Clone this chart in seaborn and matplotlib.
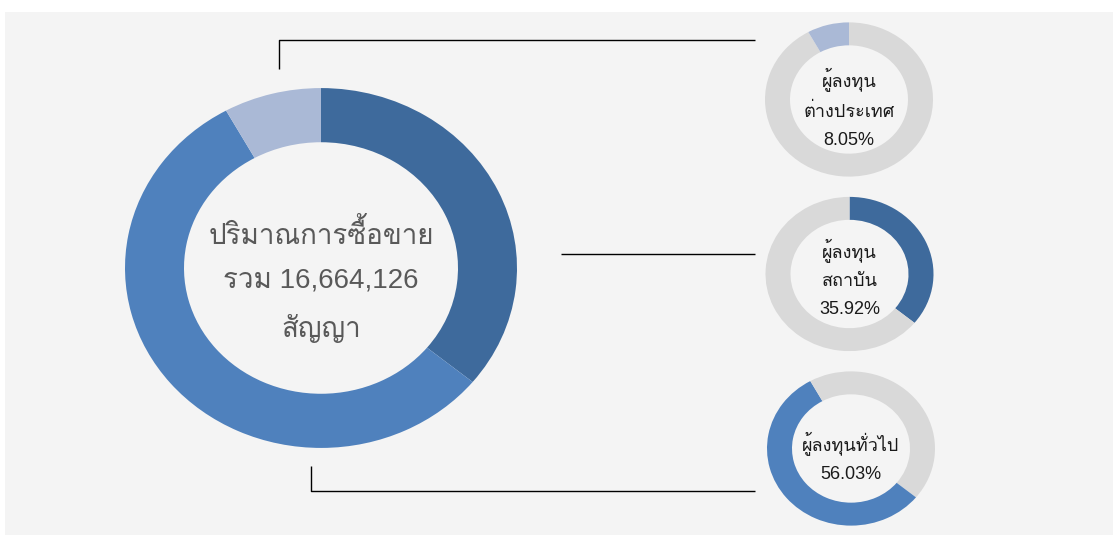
import matplotlib
matplotlib.use("Agg")
import matplotlib.pyplot as plt
import seaborn as sns

# ---- data ----
categories = ["ผู้ลงทุนสถาบัน", "ผู้ลงทุนทั่วไป", "ผู้ลงทุนต่างประเทศ"]
shares = [35.92, 56.03, 8.05]
small_labels = ["ผู้ลงทุน\nสถาบัน\n35.92%", "ผู้ลงทุนทั่วไป\n56.03%", "ผู้ลงทุน\nต่างประเทศ\n8.05%"]
center_label = "ปริมาณการซื้อขาย\nรวม 16,664,126\nสัญญา"

colors = ["#3E6A9C", "#4F81BD", "#AAB9D6"]
grey = "#D9D9D9"
panel = "#F4F4F4"

sns.set_theme(style="white")
plt.rcParams["font.family"] = ["Liberation Sans", "Loma", "Noto Sans Thai Looped", "DejaVu Sans"]

W, H = 1118, 539
S = 0.918  # vertical squash of the rings (they are drawn slightly wider than tall)
fig = plt.figure(figsize=(W / 100, H / 100), dpi=100)
fig.patch.set_facecolor("white")
ax = fig.add_axes([0, 0, 1, 1])


def Y(y):
    return (H - y) / S


# panel background
ax.add_patch(plt.Rectangle((5, Y(535)), 1108, (535 - 12) / S, facecolor=panel,
                           edgecolor="none", zorder=0))

# big donut
big_c = (321, Y(268))
big_r = 196
ax.pie(shares, colors=colors, startangle=90, counterclock=False, center=big_c, radius=big_r,
       wedgeprops=dict(width=59, edgecolor="none"), frame=True)
ax.text(321, Y(281), center_label, ha="center", va="center", fontsize=20,
        color="#595959", linespacing=1.9)

# small donuts: each shows its own segment at its position in the big donut
small_centers = [(849.5, 274), (851, 448.5), (849, 99.5)]
text_y = [278, 457, 108]
small_r = 84
total = sum(shares)
cum = 0.0
for val, col, lab, (cx, cy), ty in zip(shares, colors, small_labels, small_centers, text_y):
    before = cum
    after = max(0.0, total - cum - val)
    ax.pie([before, val, after], colors=[grey, col, grey], startangle=90, counterclock=False,
           center=(cx, Y(cy)), radius=small_r,
           wedgeprops=dict(width=25, edgecolor="none"), frame=True)
    ax.text(cx, Y(ty), lab, ha="center", va="center", fontsize=13, color="#1A1A1A",
            linespacing=1.85)
    cum += val

# connector lines
lw = 1.0
ax.plot([279, 279, 755], [Y(69), Y(40), Y(40)], color="black", lw=lw, solid_capstyle="butt")
ax.plot([561, 755], [Y(254), Y(254)], color="black", lw=lw, solid_capstyle="butt")
ax.plot([311, 311, 755], [Y(466), Y(491), Y(491)], color="black", lw=lw, solid_capstyle="butt")

ax.set_xlim(0, W)
ax.set_ylim(0, H / S)
ax.set_aspect("auto")
ax.axis("off")
fig.savefig("out.png", dpi=100, facecolor="white")
